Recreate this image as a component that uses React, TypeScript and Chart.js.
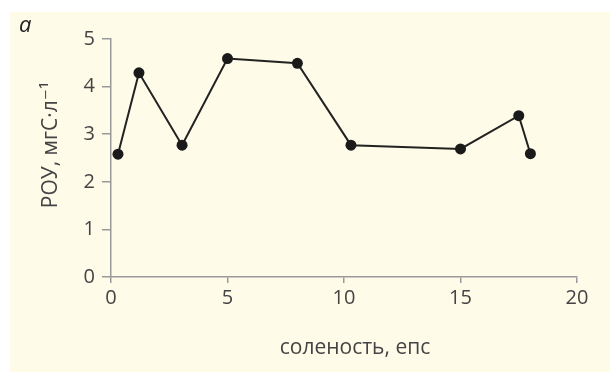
import React, { useEffect, useRef } from "react";
import { Chart, registerables } from "chart.js";

Chart.register(...registerables);

const salinity = [0.3, 1.2, 3.05, 5.0, 8.0, 10.3, 15.0, 17.5, 18.0];
const doc = [2.58, 4.29, 2.77, 4.59, 4.49, 2.77, 2.69, 3.39, 2.59];
const xTicks = [0, 5, 10, 15, 20];
const yTicks = [0, 1, 2, 3, 4, 5];
const xTitle = "соленость, епс";
const yTitle = "РОУ, мгС·л⁻¹";
const panelLabel = "а";

const FONT = "'Open Sans', 'DejaVu Sans', sans-serif";

const bgPlugin = {
  id: "bgPanel",
  beforeDraw(chart: any) {
    const ctx = chart.ctx;
    ctx.save();
    ctx.fillStyle = "#ffffff";
    ctx.fillRect(0, 0, chart.width, chart.height);
    ctx.fillStyle = "#fefbe9";
    ctx.fillRect(10, 12, chart.width - 10, chart.height - 12);
    ctx.fillStyle = "#222222";
    ctx.font = `italic 22px ${FONT}`;
    ctx.textBaseline = "alphabetic";
    ctx.fillText(panelLabel, 19, 32);
    ctx.restore();
  },
  afterDraw(chart: any) {
    const ctx = chart.ctx;
    ctx.save();
    ctx.fillStyle = "#444444";
    ctx.font = `21px ${FONT}`;
    ctx.textAlign = "center";
    ctx.textBaseline = "middle";
    ctx.fillText(xTitle, 355, 348);
    ctx.translate(51.5, 145);
    ctx.rotate(-Math.PI / 2);
    ctx.fillText(yTitle, 0, 0);
    ctx.restore();
  },
};

export default function App() {
  const ref = useRef<HTMLCanvasElement | null>(null);
  useEffect(() => {
    if (!ref.current) return;
    const chart = new Chart(ref.current, {
      type: "scatter",
      data: {
        datasets: [
          {
            data: salinity.map((x, i) => ({ x, y: doc[i] })),
            showLine: true,
            borderColor: "#222222",
            borderWidth: 2,
            backgroundColor: "#1a1a1a",
            pointBackgroundColor: "#1a1a1a",
            pointBorderWidth: 0,
            pointRadius: 5.5,
            tension: 0,
          },
        ],
      },
      options: {
        responsive: false,
        animation: false,
        layout: { padding: { left: 0, right: 33, top: 39, bottom: 0 } },
        plugins: { legend: { display: false }, tooltip: { enabled: false } },
        scales: {
          x: {
            type: "linear",
            min: 0,
            max: 20,
            afterFit(scale: any) {
              scale.height = 95;
            },
            afterBuildTicks(scale: any) {
              scale.ticks = xTicks.map((v) => ({ value: v }));
            },
            border: { display: true, color: "#9a9a9a", width: 1.5 },
            grid: {
              drawOnChartArea: false,
              drawTicks: true,
              tickLength: 6,
              color: "#9a9a9a",
              lineWidth: 1.5,
            },
            ticks: {
              color: "#444444",
              font: { family: FONT, size: 20 },
              padding: 3,
              maxRotation: 0,
            },
            title: { display: false },
          },
          y: {
            type: "linear",
            min: 0,
            max: 5,
            afterFit(scale: any) {
              scale.width = 111;
            },
            afterBuildTicks(scale: any) {
              scale.ticks = yTicks.map((v) => ({ value: v }));
            },
            border: { display: true, color: "#9a9a9a", width: 1.5 },
            grid: {
              drawOnChartArea: false,
              drawTicks: true,
              tickLength: 9,
              color: "#9a9a9a",
              lineWidth: 1.5,
            },
            ticks: {
              color: "#444444",
              font: { family: FONT, size: 20 },
              padding: 7,
            },
            title: { display: false },
          },
        },
      },
      plugins: [bgPlugin],
    });
    return () => chart.destroy();
  }, []);
  return (
    <div style={{ position: "absolute", left: 0, top: 0, width: 610, height: 372 }}>
      <canvas ref={ref} width={610} height={372} />
    </div>
  );
}
